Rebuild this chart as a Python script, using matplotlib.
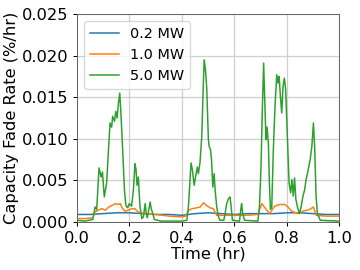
import matplotlib
matplotlib.use("Agg")
import matplotlib.pyplot as plt

# values (time in hr, fade rate in %/hr)
t_02 = [0.0, 0.05, 0.1, 0.15, 0.2, 0.25, 0.3, 0.35, 0.4, 0.45, 0.5,
        0.55, 0.6, 0.65, 0.7, 0.75, 0.8, 0.85, 0.9, 0.95, 1.0]
rate_02 = [0.0009, 0.0009, 0.0010, 0.0011, 0.0011, 0.0010, 0.0009, 0.0009,
           0.0008, 0.0010, 0.0011, 0.0010, 0.0009, 0.0010, 0.0010, 0.0010,
           0.0011, 0.0011, 0.0010, 0.0009, 0.0009]

t_10 = [0.0, 0.03, 0.06, 0.069, 0.08, 0.095, 0.108, 0.121, 0.135, 0.146,
        0.158, 0.165, 0.172, 0.183, 0.195, 0.21, 0.22, 0.23, 0.24, 0.26,
        0.30, 0.35, 0.40, 0.415, 0.425, 0.44, 0.457, 0.47, 0.482, 0.494,
        0.507, 0.52, 0.533, 0.56, 0.60, 0.65, 0.69, 0.705, 0.717, 0.735,
        0.754, 0.773, 0.792, 0.805, 0.818, 0.844, 0.863, 0.888, 0.902,
        0.912, 0.95, 1.0]
rate_10 = [0.0004, 0.0004, 0.0005, 0.0012, 0.0014, 0.0016, 0.0014, 0.0018,
           0.0020, 0.0022, 0.0021, 0.0022, 0.0017, 0.0013, 0.0014, 0.0016,
           0.0016, 0.0013, 0.0011, 0.0010, 0.0009, 0.0007, 0.0006, 0.0007,
           0.0014, 0.0016, 0.0017, 0.0018, 0.0023, 0.0020, 0.0017, 0.0016,
           0.0008, 0.0008, 0.0008, 0.0008, 0.0009, 0.0022, 0.0017, 0.0010,
           0.0019, 0.0021, 0.0021, 0.0018, 0.0013, 0.0010, 0.0013, 0.0015,
           0.0018, 0.0008, 0.0007, 0.0007]

t_50 = [0.0, 0.03, 0.06, 0.069, 0.075, 0.084, 0.092, 0.097, 0.104, 0.113,
        0.120, 0.126, 0.132, 0.136, 0.143, 0.148, 0.153, 0.158, 0.163,
        0.168, 0.174, 0.181, 0.186, 0.193, 0.199, 0.208, 0.215, 0.221,
        0.225, 0.229, 0.234, 0.240, 0.247, 0.253, 0.260, 0.264, 0.268,
        0.275, 0.279, 0.283, 0.289, 0.295, 0.32, 0.36, 0.40, 0.419, 0.425,
        0.431, 0.435, 0.440, 0.447, 0.452, 0.459, 0.463, 0.469, 0.476,
        0.480, 0.485, 0.490, 0.495, 0.501, 0.504, 0.509, 0.513, 0.518,
        0.523, 0.527, 0.533, 0.538, 0.545, 0.560, 0.565, 0.571, 0.578,
        0.584, 0.588, 0.593, 0.620, 0.626, 0.628, 0.632, 0.639, 0.690,
        0.696, 0.702, 0.707, 0.712, 0.718, 0.721, 0.725, 0.730, 0.734,
        0.738, 0.743, 0.749, 0.756, 0.762, 0.767, 0.771, 0.776, 0.781,
        0.786, 0.791, 0.796, 0.803, 0.809, 0.815, 0.820, 0.825, 0.830,
        0.835, 0.841, 0.849, 0.855, 0.862, 0.868, 0.874, 0.879, 0.884,
        0.889, 0.896, 0.902, 0.907, 0.912, 0.917, 0.928, 1.0]
rate_50 = [0.0002, 0.0001, 0.0003, 0.0018, 0.0015, 0.0065, 0.0054, 0.0060,
           0.0030, 0.0047, 0.0087, 0.0119, 0.0114, 0.0127, 0.0121, 0.0133,
           0.0125, 0.0143, 0.0155, 0.0127, 0.0087, 0.0038, 0.0020, 0.0017,
           0.0022, 0.0019, 0.0038, 0.0070, 0.0063, 0.0044, 0.0054, 0.0019,
           0.0004, 0.0006, 0.0022, 0.0010, 0.0005, 0.0017, 0.0024, 0.0016,
           0.0010, 0.0003, 0.0001, 0.0001, 0.0001, 0.0002, 0.0018, 0.0050,
           0.0071, 0.0063, 0.0044, 0.0054, 0.0066, 0.0058, 0.0071, 0.0103,
           0.0147, 0.0195, 0.0183, 0.0160, 0.0100, 0.0091, 0.0087, 0.0076,
           0.0042, 0.0058, 0.0038, 0.0018, 0.0008, 0.0002, 0.0002, 0.0010,
           0.0022, 0.0028, 0.0030, 0.0018, 0.0002, 0.0001, 0.0018, 0.0022,
           0.0010, 0.0002, 0.0001, 0.0018, 0.0066, 0.0135, 0.0191, 0.0127,
           0.0099, 0.0114, 0.0095, 0.0047, 0.0015, 0.0018, 0.0087, 0.0143,
           0.0177, 0.0167, 0.0175, 0.0151, 0.0131, 0.0163, 0.0173, 0.0159,
           0.0099, 0.0047, 0.0035, 0.0051, 0.0031, 0.0053, 0.0027, 0.0018,
           0.0010, 0.0018, 0.0031, 0.0038, 0.0051, 0.0058, 0.0066, 0.0074,
           0.0091, 0.0119, 0.0087, 0.0031, 0.0010, 0.0002, 0.0001]

labels = ["0.2 MW", "1.0 MW", "5.0 MW"]

fig = plt.figure(figsize=(4, 3), dpi=90)
ax = fig.add_axes([0.214, 0.178, 0.728, 0.77])

lw = 1.2
ax.plot(t_02, rate_02, lw=lw, label=labels[0])
ax.plot(t_10, rate_10, lw=lw, label=labels[1])
ax.plot(t_50, rate_50, lw=lw, label=labels[2])

ax.set_xlim(0, 1.0)
ax.set_ylim(0, 0.025)
ax.set_xticks([0.0, 0.2, 0.4, 0.6, 0.8, 1.0])
ax.set_yticks([0.0, 0.005, 0.010, 0.015, 0.020, 0.025])
ax.set_yticklabels(["0.000", "0.005", "0.010", "0.015", "0.020", "0.025"])
ax.tick_params(labelsize=13)
ax.grid(True, color="#cfcfcf", lw=1.0)
for s in ax.spines.values():
    s.set_color("#666666")

ax.set_xlabel("Time (hr)", fontsize=13, labelpad=1)
ax.set_ylabel("Capacity Fade Rate (%/hr)", fontsize=13, labelpad=2)
ax.legend(loc="upper left", fontsize=11.5)

fig.savefig("out.png", dpi=90)
